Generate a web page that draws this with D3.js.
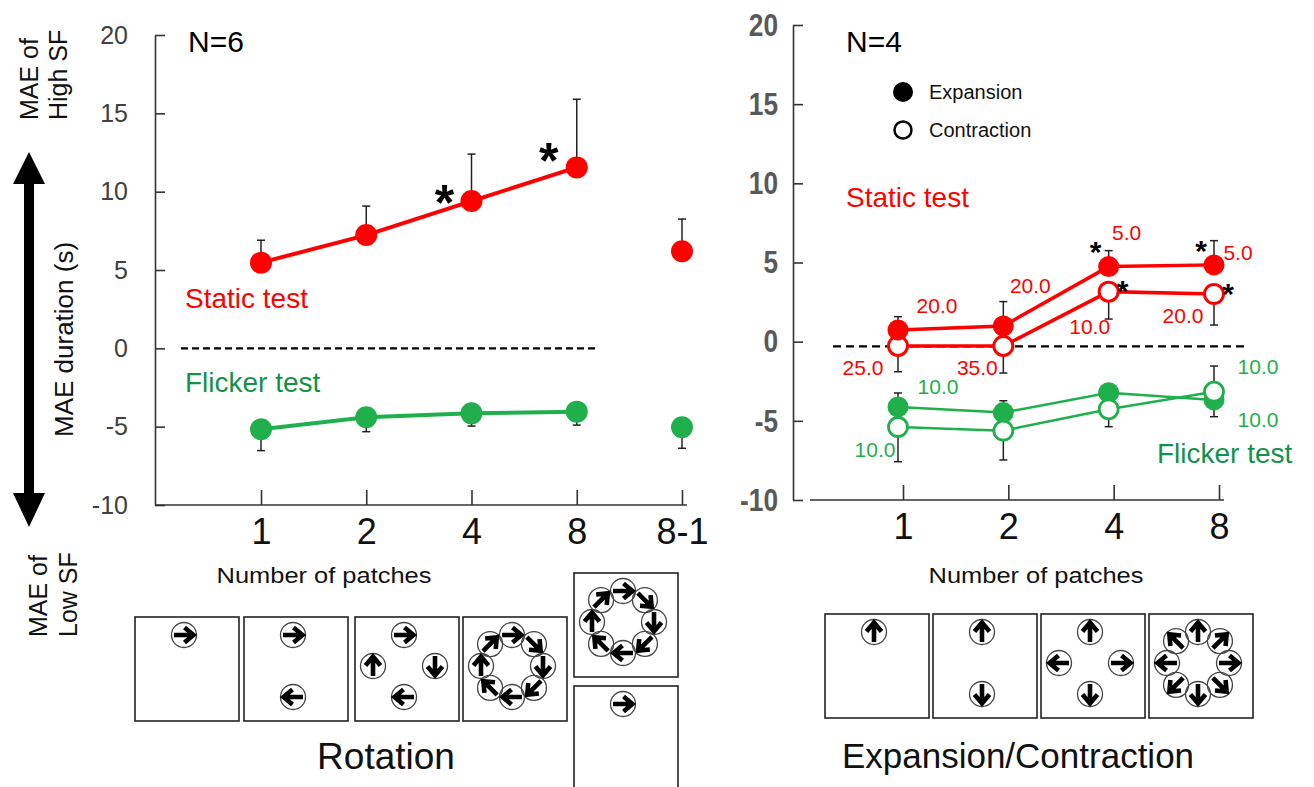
<!DOCTYPE html>
<html>
<head>
<meta charset="utf-8">
<script src="https://cdn.jsdelivr.net/npm/d3@7"></script>
<style>
  body { margin: 0; background: #fff; }
  svg { display: block; font-family: "Liberation Sans", Arial, sans-serif; }
</style>
</head>
<body>
<div id="container"></div>
<script>
// ---------- data ----------
var yTicks = [-10, -5, 0, 5, 10, 15, 20];

// rotation, N=6
var leftCategories = ["1", "2", "4", "8", "8-1"];
var leftStatic     = [5.47, 7.23, 9.4, 11.55, 6.2];
var leftStaticErr  = [1.43, 1.85, 3.0, 4.35, 2.05];
var leftFlicker    = [-5.17, -4.4, -4.15, -4.04, -5.04];
var leftFlickerErr = [-1.36, -0.92, -0.81, -0.86, -1.34];
var leftSig        = [0, 0, 1, 1, 0];
var leftJoined     = 4;   // 8-1 is not joined to the line

// expansion / contraction, N=4
var rightCategories = ["1", "2", "4", "8"];
var staticExp     = [0.74, 0.99, 4.74, 4.85];
var staticExpErr  = [0.84, 1.54, 1.01, 1.53];
var staticCon     = [-0.27, -0.27, 3.16, 3.01];
var staticConErr  = [-1.63, -1.71, -1.73, -1.96];
var flickerExp    = [-4.12, -4.48, -3.22, -3.68];
var flickerExpErr = [0.88, 0.75, 0, -1.06];
var flickerCon    = [-5.39, -5.62, -4.27, -3.16];
var flickerConErr = [-2.19, -1.85, -1.1, 1.62];
var staticExpSig  = [0, 0, 1, 1];
var staticConSig  = [0, 0, 1, 1];
var staticExpLabels  = ["20.0", "20.0", "5.0", "5.0"];
var staticConLabels  = ["25.0", "35.0", "10.0", "20.0"];
var flickerExpLabels = ["10.0", "", "", "10.0"];
var flickerConLabels = ["10.0", "", "", "10.0"];
var rightBaseline = -0.3;

// stimulus pictures: number of patches per box
var rotationPatches  = [1, 2, 4, 8, 8, 1];
var expansionPatches = [1, 2, 4, 8];

// ---------- layout ----------
var red = "#ff0000", green = "#1fb04c", darkGreen = "#13914a";

var staticExpLabelPos  = [[39, -25], [27, -41], [18, -34], [24, -12]];
var staticConLabelPos  = [[-35, 21], [-26, 21], [-19, 35], [-31, 21]];
var flickerExpLabelPos = [[40, -20], null, null, [44, 20]];
var flickerConLabelPos = [[-23, 22], null, null, [44, -25]];

var rotBoxes = [[135, 617], [244, 617], [355, 617], [463, 617], [574, 573], [574, 686]];
var expBoxes = [[825, 614], [933, 614], [1041, 614], [1149, 614]];

var svg = d3.select("#container")
  .append("svg")
  .attr("width", 1314)
  .attr("height", 787);

function plain(d) { return String(d); }

function styleTicks(g, size, color, weight, squeeze) {
  g.selectAll("text")
    .style("font-size", size + "px")
    .style("font-family", "'Liberation Sans', Arial, sans-serif")
    .style("font-weight", weight)
    .attr("fill", color)
    .each(function() {
      if (squeeze) {
        var len = this.getComputedTextLength();
        d3.select(this).attr("textLength", len * squeeze).attr("lengthAdjust", "spacingAndGlyphs");
      }
    });
  g.selectAll("line, path").attr("stroke", "#333").attr("stroke-width", 1.6);
}

function errorBars(g, x, y, vals, errs, cats) {
  vals.forEach(function(v, i) {
    if (!errs[i]) return;
    var cx = x(cats[i]), y0 = y(v), y1 = y(v + errs[i]);
    g.append("line").attr("x1", cx).attr("x2", cx).attr("y1", y0).attr("y2", y1)
      .attr("stroke", "#222").attr("stroke-width", 1.5);
    g.append("line").attr("x1", cx - 4).attr("x2", cx + 4).attr("y1", y1).attr("y2", y1)
      .attr("stroke", "#222").attr("stroke-width", 1.5);
  });
}

function series(g, x, y, cats, vals, n, color, width) {
  var line = d3.line()
    .x(function(d, i) { return x(cats[i]); })
    .y(function(d) { return y(d); });
  g.append("path")
    .datum(vals.slice(0, n))
    .attr("d", line)
    .attr("fill", "none")
    .attr("stroke", color)
    .attr("stroke-width", width);
}

function dots(g, x, y, cats, vals, color, open, r, sw) {
  g.selectAll(null)
    .data(vals)
    .enter().append("circle")
    .attr("cx", function(d, i) { return x(cats[i]); })
    .attr("cy", function(d) { return y(d); })
    .attr("r", r)
    .attr("fill", open ? "#fff" : color)
    .attr("stroke", color)
    .attr("stroke-width", open ? sw : 0);
}

// offs is either one [dx, dy] for all points or one per point
function asterisks(g, x, y, cats, vals, sig, offs, size) {
  vals.forEach(function(v, i) {
    if (!sig[i]) return;
    var o = offs.length === vals.length ? offs[i] : offs;
    g.append("text")
      .attr("x", x(cats[i]) + o[0])
      .attr("y", y(v) + o[1] + 0.56 * size)
      .attr("text-anchor", "middle")
      .attr("font-weight", "bold")
      .attr("font-size", size)
      .text("*");
  });
}

function numberLabels(g, x, y, cats, vals, labels, pos, color) {
  vals.forEach(function(v, i) {
    if (!labels[i]) return;
    g.append("text")
      .attr("x", x(cats[i]) + pos[i][0])
      .attr("y", y(v) + pos[i][1])
      .attr("dy", "0.36em")
      .attr("text-anchor", "middle")
      .attr("font-size", 21)
      .attr("fill", color)
      .text(labels[i]);
  });
}

// ---------- left panel ----------
var xL = d3.scalePoint().domain(leftCategories).range([261, 682]);
var yL = d3.scaleLinear().domain([-10, 20]).range([505, 35]);
var gL = svg.append("g");

gL.append("g")
  .attr("transform", "translate(155,0)")
  .call(d3.axisLeft(yL).tickValues(yTicks).tickFormat(plain).tickSizeInner(-10).tickSizeOuter(0).tickPadding(27))
  .call(styleTicks, 25, "#404040", "normal");

gL.append("g")
  .attr("transform", "translate(0,505)")
  .call(d3.axisBottom(xL).tickSizeInner(-15).tickSizeOuter(0).tickPadding(13))
  .call(function(g) { g.select(".domain").remove(); })
  .call(styleTicks, 36, "#111", "normal");

gL.append("line")
  .attr("x1", 155).attr("x2", xL("8-1") + 5)
  .attr("y1", yL(-10)).attr("y2", yL(-10))
  .attr("stroke", "#333").attr("stroke-width", 1.6);

gL.append("line")
  .attr("x1", 181).attr("x2", 595)
  .attr("y1", yL(0)).attr("y2", yL(0))
  .attr("stroke", "#000").attr("stroke-width", 2.2).attr("stroke-dasharray", "7,4");

errorBars(gL, xL, yL, leftStatic, leftStaticErr, leftCategories);
errorBars(gL, xL, yL, leftFlicker, leftFlickerErr, leftCategories);
series(gL, xL, yL, leftCategories, leftStatic, leftJoined, red, 4);
series(gL, xL, yL, leftCategories, leftFlicker, leftJoined, green, 4);
dots(gL, xL, yL, leftCategories, leftStatic, red, false, 11);
dots(gL, xL, yL, leftCategories, leftFlicker, green, false, 11);
asterisks(gL, xL, yL, leftCategories, leftStatic, leftSig,
  [null, null, [-27, -9], [-28, -17], null], 50);

gL.append("text").attr("x", 188).attr("y", 52).attr("font-size", 30).text("N=6");
gL.append("text").attr("x", 185).attr("y", 308).attr("font-size", 28).attr("fill", red).text("Static test");
gL.append("text").attr("x", 185).attr("y", 392).attr("font-size", 28).attr("fill", darkGreen).text("Flicker test");
gL.append("text").attr("x", 324).attr("y", 583).attr("font-size", 22).attr("text-anchor", "middle")
  .attr("textLength", 215).attr("lengthAdjust", "spacingAndGlyphs").attr("fill", "#111").text("Number of patches");

// side annotations and the double arrow
function vtext(x, y, s, size) {
  svg.append("text")
    .attr("transform", "translate(" + x + "," + y + ") rotate(-90)")
    .attr("font-size", size)
    .attr("fill", "#111")
    .text(s);
}
vtext(38, 120, "MAE of", 25);
vtext(67, 120, "High SF", 25);
vtext(73, 437, "MAE duration (s)", 26);
vtext(47, 637, "MAE of", 25);
vtext(77, 637, "Low SF", 25);

svg.append("path")
  .attr("d", "M29,152 L45,184 L34,184 L34,493 L45,493 L29,527 L13,493 L24,493 L24,184 L13,184 Z")
  .attr("fill", "#000");

// ---------- right panel ----------
var xR = d3.scalePoint().domain(rightCategories).range([898, 1214]);
var yR = d3.scaleLinear().domain([-10, 20]).range([500, 25]);
var gR = svg.append("g");

gR.append("g")
  .attr("transform", "translate(793,0)")
  .call(d3.axisLeft(yR).tickValues(yTicks).tickFormat(plain).tickSizeInner(-10).tickSizeOuter(0).tickPadding(15))
  .call(styleTicks, 32, "#595959", "bold", 0.82);

gR.append("g")
  .attr("transform", "translate(5,500)")
  .call(d3.axisBottom(xR).tickSizeInner(-15).tickSizeOuter(0).tickPadding(13))
  .call(function(g) { g.select(".domain").remove(); })
  .call(styleTicks, 36, "#111", "normal");

gR.append("line")
  .attr("x1", 810).attr("x2", xR("8") + 10)
  .attr("y1", yR(-10)).attr("y2", yR(-10))
  .attr("stroke", "#333").attr("stroke-width", 1.6);

gR.append("line")
  .attr("x1", 833).attr("x2", 1245)
  .attr("y1", yR(rightBaseline)).attr("y2", yR(rightBaseline))
  .attr("stroke", "#000").attr("stroke-width", 2.4).attr("stroke-dasharray", "8,5");

errorBars(gR, xR, yR, staticExp, staticExpErr, rightCategories);
errorBars(gR, xR, yR, staticCon, staticConErr, rightCategories);
errorBars(gR, xR, yR, flickerExp, flickerExpErr, rightCategories);
errorBars(gR, xR, yR, flickerCon, flickerConErr, rightCategories);

series(gR, xR, yR, rightCategories, staticExp, 4, red, 3.5);
series(gR, xR, yR, rightCategories, staticCon, 4, red, 3.5);
series(gR, xR, yR, rightCategories, flickerExp, 4, green, 2.5);
series(gR, xR, yR, rightCategories, flickerCon, 4, green, 2.5);

dots(gR, xR, yR, rightCategories, staticCon, red, true, 9.5, 3);
dots(gR, xR, yR, rightCategories, staticExp, red, false, 10.5);
dots(gR, xR, yR, rightCategories, flickerExp, green, false, 10.5);
dots(gR, xR, yR, rightCategories, flickerCon, green, true, 9.5, 2.8);

numberLabels(gR, xR, yR, rightCategories, staticExp, staticExpLabels, staticExpLabelPos, red);
numberLabels(gR, xR, yR, rightCategories, staticCon, staticConLabels, staticConLabelPos, red);
numberLabels(gR, xR, yR, rightCategories, flickerExp, flickerExpLabels, flickerExpLabelPos, green);
numberLabels(gR, xR, yR, rightCategories, flickerCon, flickerConLabels, flickerConLabelPos, green);

asterisks(gR, xR, yR, rightCategories, staticExp, staticExpSig, [-13, -21], 30);
asterisks(gR, xR, yR, rightCategories, staticCon, staticConSig, [14, -7], 30);

gR.append("text").attr("x", 846).attr("y", 52).attr("font-size", 30).text("N=4");
gR.append("text").attr("x", 846).attr("y", 207).attr("font-size", 28).attr("fill", red).text("Static test");
gR.append("text").attr("x", 1157).attr("y", 463).attr("font-size", 28).attr("fill", darkGreen).text("Flicker test");
gR.append("text").attr("x", 1036).attr("y", 583).attr("font-size", 22).attr("text-anchor", "middle")
  .attr("textLength", 215).attr("lengthAdjust", "spacingAndGlyphs").attr("fill", "#111").text("Number of patches");

var legend = gR.append("g").selectAll("g")
  .data(["Expansion", "Contraction"])
  .enter().append("g")
  .attr("transform", function(d, i) { return "translate(903," + (92 + i * 38) + ")"; });
legend.append("circle")
  .attr("r", function(d, i) { return i ? 8.5 : 10; })
  .attr("fill", function(d, i) { return i ? "#fff" : "#000"; })
  .attr("stroke", "#000")
  .attr("stroke-width", function(d, i) { return i ? 2.5 : 0; });
legend.append("text")
  .attr("x", 26).attr("dy", "0.36em")
  .attr("font-size", 20)
  .attr("fill", "#111")
  .text(function(d) { return d; });

// ---------- stimulus pictures ----------
function patchBox(g, box, n, mode, h) {
  var size = 104, pr = 12.5, ringR = 31;
  var cx = box[0] + 49, cy = box[1] + 49;
  g.append("rect")
    .attr("x", box[0]).attr("y", box[1])
    .attr("width", size).attr("height", h || size)
    .attr("fill", "none").attr("stroke", "#222").attr("stroke-width", 1.6);
  var angles = d3.range(n).map(function(i) { return i * 360 / n; });
  var p = g.selectAll(null).data(angles).enter().append("g")
    .attr("transform", function(a) {
      var rad = a * Math.PI / 180;
      var dir = mode === "rotation" ? a + 90 : a;
      return "translate(" + (cx + ringR * Math.sin(rad)) + "," + (cy - ringR * Math.cos(rad)) + ") rotate(" + dir + ")";
    });
  p.append("circle").attr("r", pr).attr("fill", "none").attr("stroke", "#444").attr("stroke-width", 1.3);
  p.append("path")
    .attr("d", "M0,10 L0,-7 M-7.5,-0.5 L0,-9.5 L7.5,-0.5")
    .attr("fill", "none").attr("stroke", "#000").attr("stroke-width", 4.6)
    .attr("stroke-linejoin", "miter");
}

var gS = svg.append("g");
rotationPatches.forEach(function(n, i) {
  patchBox(gS, rotBoxes[i], n, "rotation", i === 5 ? 110 : 104);
});
expansionPatches.forEach(function(n, i) {
  patchBox(gS, expBoxes[i], n, "expansion");
});

gS.append("text").attr("x", 386).attr("y", 769).attr("font-size", 37)
  .attr("text-anchor", "middle").attr("fill", "#111").text("Rotation");
gS.append("text").attr("x", 1018).attr("y", 768).attr("font-size", 35)
  .attr("text-anchor", "middle").attr("fill", "#111").text("Expansion/Contraction");
</script>
</body>
</html>
